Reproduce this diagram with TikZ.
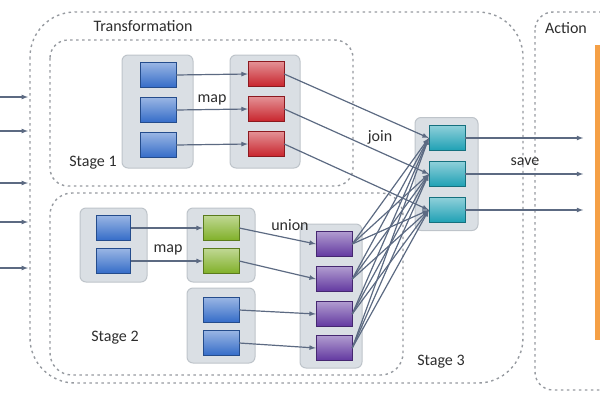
\documentclass[tikz,border=0pt]{standalone}
\usepackage{fontspec}
\setmainfont{Carlito}
\usepackage{tikz}
\usetikzlibrary{calc}

\definecolor{lnk}{RGB}{92,106,130}
\definecolor{zonec}{RGB}{150,154,160}
\definecolor{grpf}{RGB}{218,223,228}
\definecolor{grpd}{RGB}{190,196,202}
\definecolor{txt}{RGB}{45,45,45}
\definecolor{orng}{RGB}{245,160,70}
\definecolor{blu}{RGB}{52,108,200}
\definecolor{rdd}{RGB}{200,36,44}
\definecolor{grn}{RGB}{128,176,40}
\definecolor{prp}{RGB}{98,56,160}
\definecolor{cyn}{RGB}{30,160,180}

\begin{document}
\begin{tikzpicture}[x=1pt,y=-1pt,
    font=\fontsize{16}{18}\selectfont, text=txt,
    zone/.style={draw=zonec, line width=1.4pt, dash pattern=on 2.5pt off 3.5pt},
    grp/.style={draw=grpd, fill=grpf, line width=1pt, rounded corners=6pt, inner sep=0pt},
    part/.style={draw=#1!70!black, top color=#1!50!white, bottom color=#1,
                 minimum width=36pt, minimum height=25pt, inner sep=0pt},
    flow/.style={draw=lnk, line width=1.2pt, -latex}]
    \clip (0,0) rectangle (600,400);

    \draw[zone, rounded corners=45pt] (30,12) rectangle (523,383);
    \draw[zone, rounded corners=18pt] (535,12) rectangle (640,390);
    \draw[zone, rounded corners=18pt] (50,40) rectangle (353,186);
    \draw[zone, rounded corners=22pt] (50,193) rectangle (403,375);
    \fill[orng] (595,45) rectangle (605,340);

    \node (ltrans) at (143,26) {Transformation};
    \node (lact) at (566,28) {Action};
    \node (lst1) at (93,163) {Stage 1};
    \node (lst2) at (115,338) {Stage 2};
    \node (lst3) at (441,362) {Stage 3};

    % stage 1
    \node[grp, minimum width=71pt, minimum height=113pt] (ga) at (157.5,111.5) {};
    \node[part=blu] (a1) at (158,75) {};
    \node[part=blu] (a2) at (158,110) {};
    \node[part=blu] (a3) at (158,145) {};
    \node[grp, minimum width=70pt, minimum height=113pt] (gb) at (265,111.5) {};
    \node[part=rdd] (b1) at (266,74) {};
    \node[part=rdd] (b2) at (266,109) {};
    \node[part=rdd] (b3) at (266,144) {};
    \node (lmap1) at (212,100) {map};

    % stage 2
    \node[grp, minimum width=67pt, minimum height=74pt] (gc) at (113.5,245) {};
    \node[part=blu, minimum width=34pt] (c1) at (113.5,228) {};
    \node[part=blu, minimum width=34pt] (c2) at (113.5,261) {};
    \node[grp, minimum width=68pt, minimum height=74pt] (gd) at (221,245) {};
    \node[part=grn] (d1) at (221,228) {};
    \node[part=grn] (d2) at (221,261) {};
    \node[grp, minimum width=68pt, minimum height=75pt] (ge) at (221,325.5) {};
    \node[part=blu] (e1) at (221,310) {};
    \node[part=blu] (e2) at (221,343) {};
    \node[grp, minimum width=62pt, minimum height=144pt] (gf) at (331,296) {};
    \node[part=prp] (f1) at (334,244) {};
    \node[part=prp] (f2) at (334,279) {};
    \node[part=prp] (f3) at (334,314) {};
    \node[part=prp] (f4) at (334,348) {};
    \node (lmap2) at (168,250) {map};
    \node (lunion) at (290,225) {union};

    % stage 3
    \node[grp, minimum width=63pt, minimum height=113pt] (gg) at (446.5,174) {};
    \node[part=cyn] (g1) at (447,138) {};
    \node[part=cyn] (g2) at (447,174) {};
    \node[part=cyn] (g3) at (447,210) {};
    \node (ljoin) at (380,137) {join};
    \node (lsave) at (525,162) {save};

    \foreach \y [count=\i] in {97,131,183,222,268} {
        \coordinate (src\i) at (0,\y);
        \coordinate (dst\i) at (28,\y);
        \draw[flow] (src\i) -- (dst\i);
    }
    \foreach \i in {1,2,3} {
        \draw[flow] (a\i.east) -- (b\i.west);
        \draw[flow] (b\i.east) -- (g\i.west);
        \coordinate (out\i) at ($(g\i.east)+(118,0)$);
        \draw[flow] (g\i.east) -- (out\i);
    }
    \draw[flow] (c1.east) -- (d1.west);
    \draw[flow] (c2.east) -- (d2.west);
    \draw[flow] (d1.east) -- (f1.west);
    \draw[flow] (d2.east) -- (f2.west);
    \draw[flow] (e1.east) -- (f3.west);
    \draw[flow] (e2.east) -- (f4.west);
    \foreach \j in {1,...,4}
        \foreach \i in {1,2,3}
            \draw[flow] (f\j.east) -- (g\i.west);
\end{tikzpicture}
\end{document}
